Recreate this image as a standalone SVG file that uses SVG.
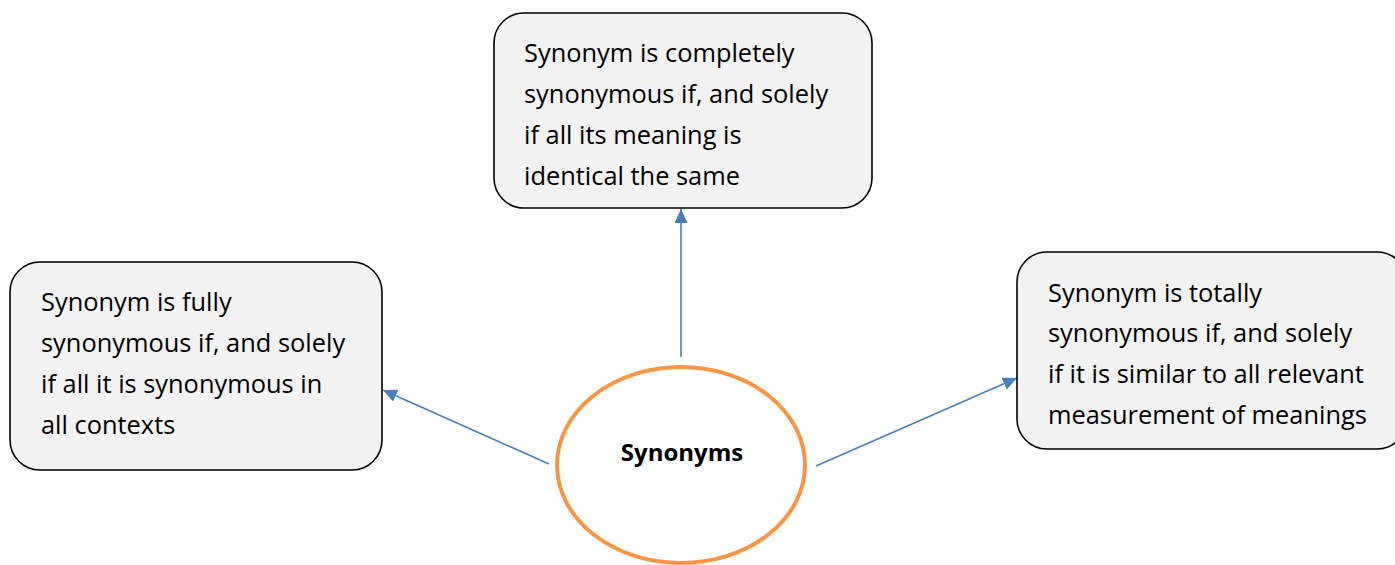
<svg xmlns="http://www.w3.org/2000/svg" width="1395" height="565" viewBox="0 0 1395 565">
<style>
.box{fill:#F2F2F2;stroke:#000;stroke-width:1.6}
.t{font-family:"Open Sans","Liberation Sans",sans-serif;font-size:25.4px;fill:#000}
.c{stroke:#4A7EBB;stroke-width:1.6;fill:none}
</style>
<defs>
<marker id="ah" viewBox="0 0 10 10" refX="10" refY="5" markerWidth="14" markerHeight="13" markerUnits="userSpaceOnUse" orient="auto" preserveAspectRatio="none">
<path d="M0,0 L10,5 L0,10 Z" fill="#4A7EBB"/>
</marker>
</defs>
<rect width="1395" height="565" fill="#fff"/>
<g id="connectors">
<line class="c" x1="681" y1="357" x2="681" y2="209" marker-end="url(#ah)"/>
<line class="c" x1="549" y1="464" x2="383" y2="390" marker-end="url(#ah)"/>
<line class="c" x1="816" y1="466" x2="1017" y2="378" marker-end="url(#ah)"/>
</g>
<g id="top">
<rect class="box" x="494" y="13" width="378" height="195" rx="30"/>
<text class="t"><tspan x="524" y="62">Synonym is completely</tspan><tspan x="524" y="103">synonymous if, and solely</tspan><tspan x="524" y="144">if all its meaning is</tspan><tspan x="524" y="185">identical the same</tspan></text>
</g>
<g id="left">
<rect class="box" x="10" y="262" width="372" height="208" rx="30"/>
<text class="t"><tspan x="41" y="311">Synonym is fully</tspan><tspan x="41" y="352">synonymous if, and solely</tspan><tspan x="41" y="393">if all it is synonymous in</tspan><tspan x="41" y="434">all contexts</tspan></text>
</g>
<g id="right">
<rect class="box" x="1017" y="252" width="390" height="197" rx="30"/>
<text class="t"><tspan x="1048" y="302">Synonym is totally</tspan><tspan x="1048" y="342">synonymous if, and solely</tspan><tspan x="1048" y="383">if it is similar to all relevant</tspan><tspan x="1048" y="424">measurement of meanings</tspan></text>
</g>
<g id="center">
<ellipse cx="681" cy="465" rx="124" ry="98" fill="#fff" stroke="#F79646" stroke-width="4"/>
<text x="682" y="461" text-anchor="middle" style="font-family:'Open Sans','Liberation Sans',sans-serif;font-size:24px;font-weight:bold">Synonyms</text>
</g>
</svg>
